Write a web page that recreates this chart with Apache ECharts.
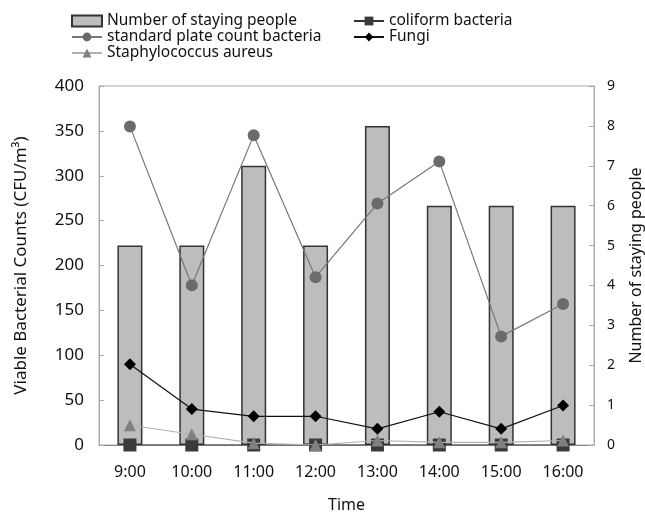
<!DOCTYPE html>
<html>
<head>
<meta charset="utf-8">
<script src="https://cdn.jsdelivr.net/npm/echarts@6/dist/echarts.min.js"></script>
<style>
  html, body { margin: 0; padding: 0; background: #fff; }
  #chart { width: 645px; height: 513px; }
</style>
</head>
<body>
<div id="chart"></div>
<script>
// Hourly air sampling: room occupancy and viable bacterial counts
const times = ['9:00', '10:00', '11:00', '12:00', '13:00', '14:00', '15:00', '16:00'];
const stayingPeople = [5, 5, 7, 5, 8, 6, 6, 6];
const standardPlate = [355, 178, 345, 187, 269, 316, 121, 157];
const coliform = [0, 0, 0, 0, 0, 0, 0, 0];
const fungi = [90, 40, 32, 32, 18, 37, 18, 44];
const staphAureus = [22, 12, 2, 0, 5, 3, 3, 5];
const leftTicks = [0, 400, 50];
const rightTicks = [0, 9, 1];

const FONT = '"Noto Sans", "Liberation Sans", sans-serif';
const chart = echarts.init(document.getElementById('chart'), null, { renderer: 'canvas' });

const legendText = { fontFamily: FONT, fontSize: 15.5, color: '#111' };

chart.setOption({
  animation: false,
  backgroundColor: '#fff',
  legend: [
    {
      orient: 'vertical', left: 66, top: 8, itemGap: 0,
      itemWidth: 30, itemHeight: 11, textStyle: legendText,
      data: [
        { name: 'Number of staying people', icon: 'rect' },
        { name: 'standard plate count bacteria' },
        { name: 'Staphylococcus aureus' }
      ]
    },
    {
      orient: 'vertical', left: 348, top: 8, itemGap: 0,
      itemWidth: 30, itemHeight: 11, textStyle: legendText,
      data: [
        { name: 'coliform bacteria' },
        { name: 'Fungi' }
      ]
    }
  ],
  grid: {
    left: 99, right: 51, top: 86, bottom: 68,
    outerBoundsMode: 'none', containLabel: false,
    show: true, borderColor: '#aaa', borderWidth: 1
  },
  xAxis: {
    type: 'category', data: times,
    name: 'Time', nameLocation: 'middle', nameGap: 52,
    nameTextStyle: { fontFamily: FONT, fontSize: 16, color: '#111' },
    axisLine: { lineStyle: { color: '#888' } },
    axisTick: { inside: true, length: 5, lineStyle: { color: '#aaa' } },
    axisLabel: { fontFamily: FONT, fontSize: 16, color: '#111', margin: 19 }
  },
  yAxis: [
    {
      type: 'value', min: leftTicks[0], max: leftTicks[1], interval: leftTicks[2],
      name: 'Viable Bacterial Counts (CFU/m³)', nameLocation: 'middle', nameGap: 69,
      nameTextStyle: { fontFamily: FONT, fontSize: 17, color: '#111' },
      axisLine: { show: true, lineStyle: { color: '#aaa' } },
      axisTick: { show: true, inside: true, length: 5, lineStyle: { color: '#aaa' } },
      splitLine: { show: false },
      axisLabel: { fontFamily: FONT, fontSize: 17, color: '#111', margin: 15 }
    },
    {
      type: 'value', min: rightTicks[0], max: rightTicks[1], interval: rightTicks[2],
      name: 'Number of staying people', nameLocation: 'middle', nameGap: 34,
      nameRotate: 90,
      nameTextStyle: { fontFamily: FONT, fontSize: 16, color: '#111' },
      axisLine: { show: true, lineStyle: { color: '#aaa' } },
      axisTick: { show: true, inside: true, length: 5, lineStyle: { color: '#aaa' } },
      splitLine: { show: false },
      axisLabel: { fontFamily: FONT, fontSize: 14, color: '#111', margin: 13 }
    }
  ],
  series: [
    {
      name: 'Number of staying people', type: 'bar', yAxisIndex: 1,
      data: stayingPeople, barWidth: 25,
      itemStyle: { color: '#bdbdbd', borderColor: '#333', borderWidth: 1.5 },
      z: 1
    },
    {
      name: 'standard plate count bacteria', type: 'line', yAxisIndex: 0,
      data: standardPlate, symbol: 'circle', symbolSize: 12,
      lineStyle: { color: '#777', width: 1.2 },
      itemStyle: { color: '#6b6b6b' },
      z: 3
    },
    {
      name: 'Staphylococcus aureus', type: 'line', yAxisIndex: 0,
      data: staphAureus, symbol: 'triangle', symbolSize: 12,
      lineStyle: { color: '#b0b0b0', width: 1.2 },
      itemStyle: { color: '#808080' },
      z: 5
    },
    {
      name: 'coliform bacteria', type: 'line', yAxisIndex: 0,
      data: coliform, symbol: 'rect', symbolSize: 13,
      lineStyle: { color: '#333', width: 1 },
      itemStyle: { color: '#3a3a3a' },
      z: 4
    },
    {
      name: 'Fungi', type: 'line', yAxisIndex: 0,
      data: fungi, symbol: 'diamond', symbolSize: 12,
      lineStyle: { color: '#111', width: 1.2 },
      itemStyle: { color: '#000' },
      z: 6
    }
  ]
});
</script>
</body>
</html>
